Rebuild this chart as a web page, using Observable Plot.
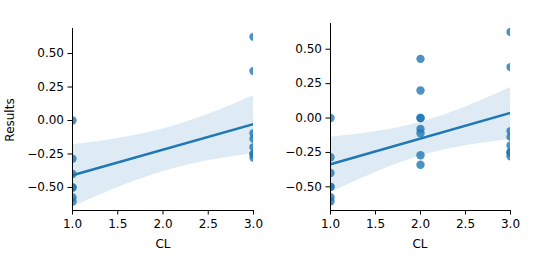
<!DOCTYPE html>
<html>
<head>
<meta charset="utf-8">
<script src="https://cdn.jsdelivr.net/npm/d3@7"></script>
<script src="https://cdn.jsdelivr.net/npm/@observablehq/plot@0.6"></script>
<style>
  html, body { margin: 0; padding: 0; background: #fff; }
  #wrap { position: relative; width: 541px; height: 258px; background: #fff; font-family: "DejaVu Sans", sans-serif; color: #000; overflow: hidden; }
  .panel { position: absolute; top: 0; }
  .lbl { position: absolute; font-size: 12px; line-height: 1; white-space: nowrap; }
</style>
</head>
<body>
<div id="wrap">
  <div id="left" class="panel" style="left:0"></div>
  <div id="right" class="panel" style="left:270px"></div>
  <div class="lbl" style="left:9.5px; top:120px; transform: translate(-50%,-50%) rotate(-90deg);">Results</div>
  <div class="lbl" style="left:163px; top:244px; transform: translate(-50%,-50%);">CL</div>
  <div class="lbl" style="left:420px; top:244px; transform: translate(-50%,-50%);">CL</div>
</div>
<script>
// Data
const resultsCL1 = [0, -0.285, -0.40, -0.50, -0.50, -0.575, -0.605];
const resultsCL2 = [0.43, 0.20, 0, 0, -0.08, -0.11, -0.27, -0.34];
const resultsCL3 = [0.625, 0.37, -0.095, -0.137, -0.199, -0.249, -0.25, -0.278];
const xTicks = [1, 1.5, 2, 2.5, 3];
const yTicks = [-0.5, -0.25, 0, 0.25, 0.5];
const xDomain = [1, 3];
const yDomain = [-0.672, 0.687];

const leftData = [
  ...resultsCL1.map(v => ({CL: 1, Results: v})),
  ...resultsCL3.map(v => ({CL: 3, Results: v}))
];
const rightData = [
  ...resultsCL1.map(v => ({CL: 1, Results: v})),
  ...resultsCL2.map(v => ({CL: 2, Results: v})),
  ...resultsCL3.map(v => ({CL: 3, Results: v}))
];

const blue = "#1f77b4";

function panel(data, opts) {
  return Plot.plot({
    width: opts.width,
    height: 258,
    marginLeft: opts.ml,
    marginRight: opts.mr,
    marginTop: opts.mt,
    marginBottom: 48,
    style: {fontFamily: "DejaVu Sans, sans-serif", fontSize: "12px", color: "#000", background: "transparent", overflow: "visible"},
    x: {domain: xDomain, label: null},
    y: {domain: yDomain, label: null},
    marks: [
      Plot.dot(data, {x: "CL", y: "Results", r: 4.2, fill: blue, fillOpacity: 0.8, stroke: "none", clip: true}),
      Plot.linearRegressionY(data, {x: "CL", y: "Results", stroke: blue, strokeWidth: 2.5, fill: blue, fillOpacity: 0.15, clip: true}),
      Plot.axisX({ticks: xTicks, tickFormat: d3.format(".1f"), tickSize: 4.5, tickPadding: 4, label: null, stroke: "#000"}),
      Plot.axisY({ticks: yTicks, tickFormat: d3.format(".2f"), tickSize: 4.5, tickPadding: 4, label: null, stroke: "#000"}),
      Plot.ruleX([xDomain[0]], {stroke: "#000", strokeWidth: 1}),
      Plot.ruleY([yDomain[0]], {stroke: "#000", strokeWidth: 1})
    ]
  });
}

document.getElementById("left").appendChild(panel(leftData, {width: 270, ml: 72, mr: 17, mt: 28}));
document.getElementById("right").appendChild(panel(rightData, {width: 271, ml: 60, mr: 31, mt: 23}));
</script>
</body>
</html>
